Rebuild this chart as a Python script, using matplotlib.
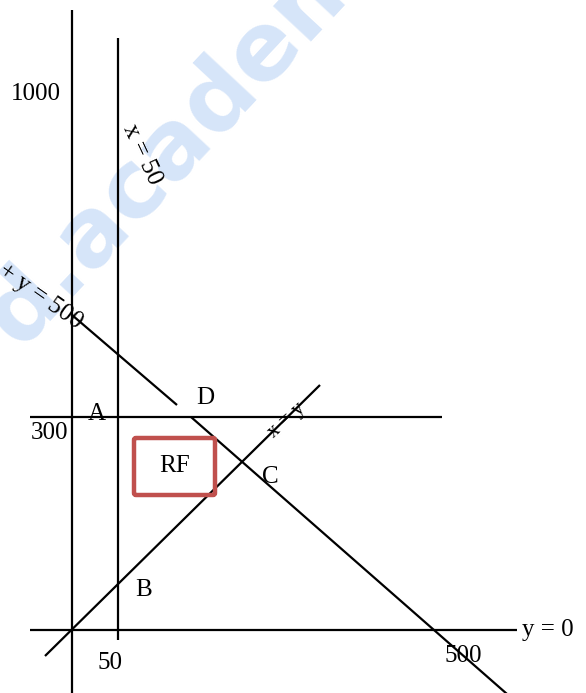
import matplotlib
matplotlib.use('Agg')
import matplotlib.pyplot as plt
from matplotlib.patches import FancyBboxPatch

# sketch of the feasible region (not to scale), origin at the axes crossing
line_names = ['x = 0', 'x = 50', 'y = 0', 'y = 300', 'x = y',
              'x + y = 500 (upper)', 'x + y = 500 (lower)']
x_start = [0, 46, -42, -42, -27, 0, 119]
y_start = [-63, -10, 0, 213, -26, 315, 213]
x_end = [0, 46, 445, 370, 248, 105, 435]
y_end = [620, 592, 0, 213, 245, 225, -64]

# corner labels
point_names = ['A', 'B', 'C', 'D']
point_x = [25, 72, 198, 133]
point_y = [216, 40, 153, 232]

# tick labels on the axes
tick_text = ['1000', '300', '50', '500']
tick_x = [-36, -22, 38, 391]
tick_y = [536, 197, -33, -26]

# RF box (left, bottom, width, height)
rf_box = [62, 135, 81, 57]

plt.rcParams['font.family'] = ['Liberation Serif', 'DejaVu Serif']

fig = plt.figure(figsize=(5.86, 6.93), dpi=100)
ax = fig.add_axes([0, 0, 1, 1])
ax.set_xlim(-72, 514)
ax.set_ylim(-63, 630)
ax.axis('off')

# watermark
ax.text(126, 510, 'd.academy', rotation=47, color='#d6e5f9', fontsize=68,
        fontweight='bold', family='DejaVu Sans', ha='center', va='center',
        zorder=0)

for i in range(len(line_names)):
    ax.plot([x_start[i], x_end[i]], [y_start[i], y_end[i]], color='black',
            lw=1.6, solid_capstyle='butt', zorder=2)

box = FancyBboxPatch((rf_box[0], rf_box[1]), rf_box[2], rf_box[3],
                     boxstyle='round,pad=0,rounding_size=2', fill=False,
                     edgecolor='#c0504d', lw=3.2, zorder=3)
ax.add_patch(box)
ax.text(rf_box[0] + rf_box[2] / 2, rf_box[1] + rf_box[3] / 2, 'RF',
        fontsize=18, ha='center', va='center', zorder=4)

for name, px, py in zip(point_names, point_x, point_y):
    ax.text(px, py, name, fontsize=18, ha='center', va='center', zorder=4)

for t, px, py in zip(tick_text, tick_x, tick_y):
    ax.text(px, py, t, fontsize=18, ha='center', va='center', zorder=4)

ax.text(450, 0, 'y = 0', fontsize=18, ha='left', va='center', zorder=4)
ax.text(70, 475, 'x = 50', fontsize=18, ha='center', va='center',
        rotation=-65, zorder=4)
ax.text(8, 306, 'x + y = 500', fontsize=18, ha='right', va='center',
        rotation=-35, rotation_mode='anchor', zorder=4)
ax.text(215, 210, 'x = y', fontsize=15, ha='center', va='center',
        rotation=42, zorder=4)

fig.savefig('out.png', dpi=100)
